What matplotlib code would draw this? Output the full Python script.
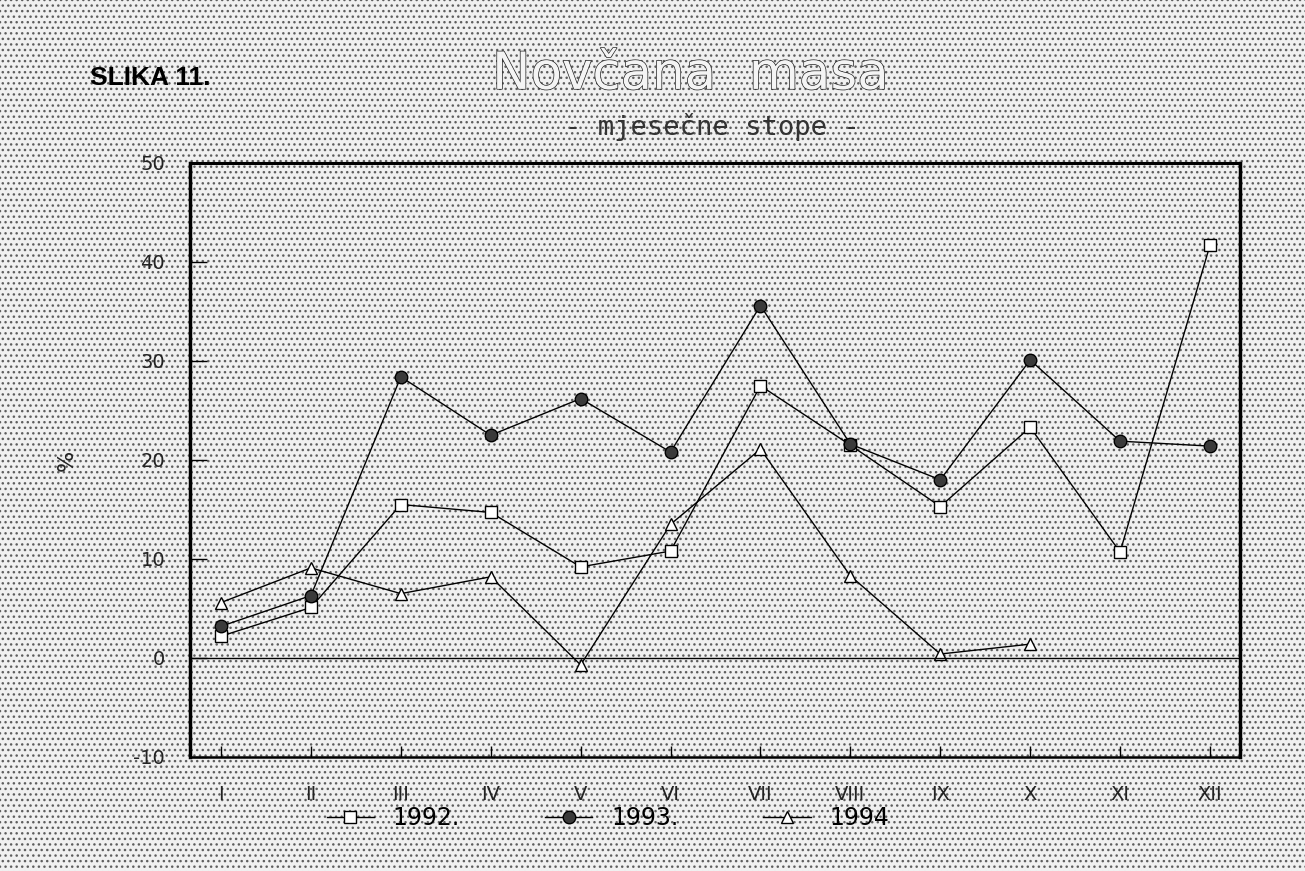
"""Novcana masa - mjesecne stope (SLIKA 11.)."""

import matplotlib

matplotlib.use("Agg")
import matplotlib.pyplot as plt
from matplotlib.patches import Rectangle
import matplotlib.patheffects as pe

months = ["I", "II", "III", "IV", "V", "VI", "VII", "VIII", "IX", "X", "XI", "XII"]

# monthly rates, %
rates_1992 = [2.2, 5.1, 15.5, 14.7, 9.2, 10.8, 27.5, 21.5, 15.3, 23.3, 10.7, 41.7]
rates_1993 = [3.2, 6.3, 28.4, 22.5, 26.2, 20.8, 35.6, 21.6, 18.0, 30.1, 21.9, 21.4]
rates_1994 = [5.6, 9.1, 6.5, 8.2, -0.7, 13.5, 21.1, 8.3, 0.4, 1.4]

y_ticks = [-10, 0, 10, 20, 30, 40, 50]
y_tick_labels = ["-10", "0", "10", "20", "30", "40", "50"]

fig = plt.figure(figsize=(13.05, 8.71), dpi=100)
fig.patch.set_facecolor("white")

# halftone-like background of the scanned page
bg = Rectangle((0, 0), 1, 1, transform=fig.transFigure, facecolor="#f0f0f0",
               edgecolor="#5e5e5e", linewidth=0, hatch="...", zorder=-10)
fig.patches.append(bg)

ax = fig.add_axes([0.1456, 0.1309, 0.8046, 0.682])
ax.set_facecolor("none")

x = list(range(1, len(months) + 1))
ax.plot(x, rates_1992, color="black", lw=1.0, marker="s", ms=8,
        mfc="white", mec="black", mew=1.0, label="1992.")
ax.plot(x, rates_1993, color="black", lw=1.0, marker="o", ms=9,
        mfc="#3a3a3a", mec="black", mew=1.0, label="1993.")
ax.plot(x[:len(rates_1994)], rates_1994, color="black", lw=1.0, marker="^", ms=8,
        mfc="white", mec="black", mew=1.0, label="1994")

ax.axhline(0, color="black", lw=1.0)

ax.set_xlim(0.655, 12.334)
ax.set_ylim(-10, 50)
ax.set_xticks(x)
ax.set_xticklabels(months)
ax.set_yticks(y_ticks)
ax.set_yticklabels(y_tick_labels)
ax.tick_params(axis="y", direction="in", length=12, width=1, pad=18,
               labelsize=14, labelcolor="#222222")
ax.tick_params(axis="x", direction="in", length=8, width=1, pad=20,
               labelsize=14, labelcolor="#222222")

for side, lw in (("left", 2.5), ("top", 2.2), ("right", 2.5), ("bottom", 1.8)):
    ax.spines[side].set_linewidth(lw)
    ax.spines[side].set_color("black")

fig.text(0.051, 0.472, "%", fontsize=16, rotation=90, ha="center", va="center",
         color="#222222")

fig.text(0.069, 0.911, "SLIKA 11.", fontsize=19, fontweight="bold",
         family="Liberation Sans", ha="left", va="center", color="black")

title = fig.text(0.529, 0.914, "Novčana  masa", fontsize=37, ha="center",
                 va="center", color="#f4f4f4")
title.set_path_effects([pe.withStroke(linewidth=1.0, foreground="#222222")])
fig.text(0.546, 0.854, "- mjesečne stope -", fontsize=19.5,
         family="DejaVu Sans Mono", ha="center", va="center", color="#333333")

fig.legend(loc="center", bbox_to_anchor=(0.466, 0.061), ncol=3, frameon=False,
           fontsize=17, handlelength=2.0, columnspacing=3.6, handletextpad=0.8)

fig.savefig("out.png", dpi=100)
